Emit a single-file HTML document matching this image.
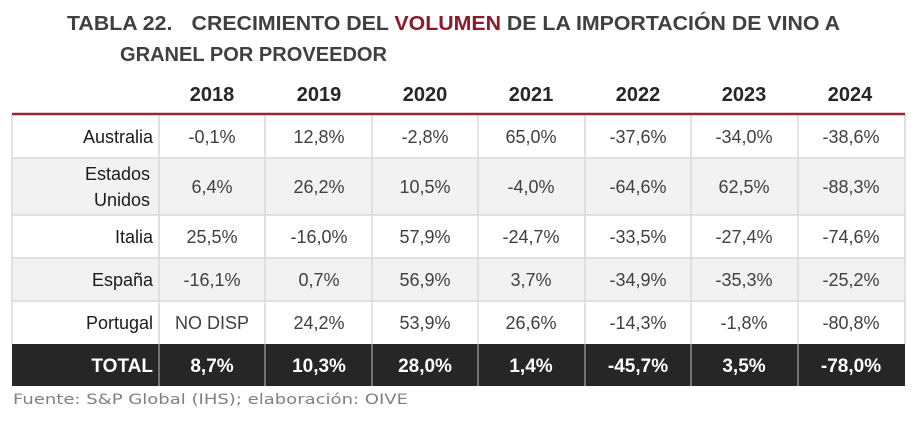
<!DOCTYPE html>
<html><head><meta charset="utf-8"><style>
body{margin:0;background:#fff;}
svg{display:block;font-family:"Liberation Sans",sans-serif;}
</style></head><body>
<svg width="917" height="422" viewBox="0 0 917 422">
<rect width="917" height="422" fill="#fff"/>
<g font-weight="bold" font-size="20" fill="#404040">
<text x="67" y="30" textLength="773" lengthAdjust="spacingAndGlyphs">TABLA 22.<tspan dx="18">CRECIMIENTO DEL </tspan><tspan fill="#8b1a2b">VOLUMEN</tspan> DE LA IMPORTACIÓN DE VINO A</text>
<text x="120" y="61" textLength="267" lengthAdjust="spacingAndGlyphs">GRANEL POR PROVEEDOR</text>
</g>
<g font-weight="bold" font-size="20" fill="#262626" text-anchor="middle">
<text x="212" y="101">2018</text><text x="319" y="101">2019</text><text x="425" y="101">2020</text><text x="531" y="101">2021</text><text x="638" y="101">2022</text><text x="744" y="101">2023</text><text x="850" y="101">2024</text>
</g>
<rect x="12" y="158" width="893" height="57" fill="#f2f2f2"/>
<rect x="12" y="258" width="893" height="43" fill="#f2f2f2"/>
<g stroke="#d9d9d9" stroke-width="1.5">
<line x1="12" y1="158" x2="905" y2="158"/><line x1="12" y1="215" x2="905" y2="215"/><line x1="12" y1="258" x2="905" y2="258"/><line x1="12" y1="301" x2="905" y2="301"/>
<line x1="12" y1="114" x2="12" y2="344"/><line x1="159" y1="114" x2="159" y2="344"/><line x1="265" y1="114" x2="265" y2="344"/><line x1="372" y1="114" x2="372" y2="344"/><line x1="478" y1="114" x2="478" y2="344"/><line x1="585" y1="114" x2="585" y2="344"/><line x1="691" y1="114" x2="691" y2="344"/><line x1="798" y1="114" x2="798" y2="344"/><line x1="905" y1="114" x2="905" y2="344"/>
</g>
<rect x="12" y="344" width="893" height="42" fill="#262626"/>
<g stroke="#8c8c8c" stroke-width="1.5">
<line x1="159" y1="344" x2="159" y2="386"/><line x1="265" y1="344" x2="265" y2="386"/><line x1="372" y1="344" x2="372" y2="386"/><line x1="478" y1="344" x2="478" y2="386"/><line x1="585" y1="344" x2="585" y2="386"/><line x1="691" y1="344" x2="691" y2="386"/><line x1="798" y1="344" x2="798" y2="386"/>
</g>
<line x1="12" y1="114" x2="905" y2="114" stroke="#9b2335" stroke-width="2.5"/>
<g font-size="18" fill="#1a1a1a" text-anchor="end">
<text x="153" y="143">Australia</text>
<text x="150" y="180">Estados</text><text x="150" y="206">Unidos</text>
<text x="153" y="243">Italia</text>
<text x="153" y="286">España</text>
<text x="153" y="329">Portugal</text>
</g>
<g font-size="18" fill="#404040" text-anchor="middle">
<text x="212" y="143">-0,1%</text><text x="319" y="143">12,8%</text><text x="425" y="143">-2,8%</text><text x="531" y="143">65,0%</text><text x="638" y="143">-37,6%</text><text x="744" y="143">-34,0%</text><text x="851" y="143">-38,6%</text>
<text x="212" y="193">6,4%</text><text x="319" y="193">26,2%</text><text x="425" y="193">10,5%</text><text x="531" y="193">-4,0%</text><text x="638" y="193">-64,6%</text><text x="744" y="193">62,5%</text><text x="851" y="193">-88,3%</text>
<text x="212" y="243">25,5%</text><text x="319" y="243">-16,0%</text><text x="425" y="243">57,9%</text><text x="531" y="243">-24,7%</text><text x="638" y="243">-33,5%</text><text x="744" y="243">-27,4%</text><text x="851" y="243">-74,6%</text>
<text x="212" y="286">-16,1%</text><text x="319" y="286">0,7%</text><text x="425" y="286">56,9%</text><text x="531" y="286">3,7%</text><text x="638" y="286">-34,9%</text><text x="744" y="286">-35,3%</text><text x="851" y="286">-25,2%</text>
<text x="212" y="329">NO DISP</text><text x="319" y="329">24,2%</text><text x="425" y="329">53,9%</text><text x="531" y="329">26,6%</text><text x="638" y="329">-14,3%</text><text x="744" y="329">-1,8%</text><text x="851" y="329">-80,8%</text>
</g>
<g font-size="19" font-weight="bold" fill="#fff" text-anchor="middle">
<text x="153" y="372" text-anchor="end">TOTAL</text>
<text x="212" y="372">8,7%</text><text x="319" y="372">10,3%</text><text x="425" y="372">28,0%</text><text x="531" y="372">1,4%</text><text x="638" y="372">-45,7%</text><text x="744" y="372">3,5%</text><text x="851" y="372">-78,0%</text>
</g>
<text x="13" y="404" font-family="'DejaVu Sans',sans-serif" font-size="14" fill="#808080" textLength="395" lengthAdjust="spacingAndGlyphs">Fuente: S&amp;P Global (IHS); elaboración: OIVE</text>
</svg>
</body></html>
